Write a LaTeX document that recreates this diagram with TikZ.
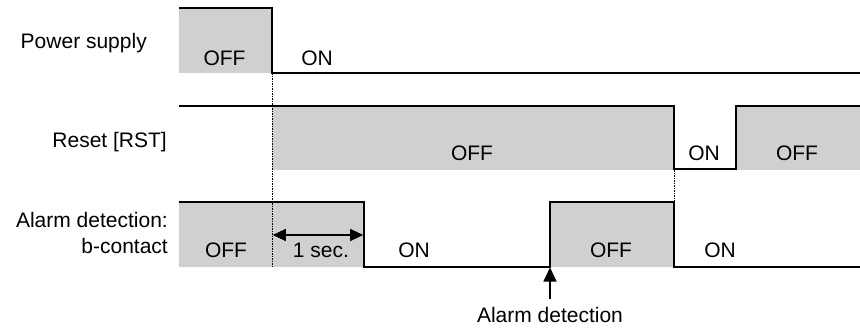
\documentclass[tikz,border=0pt]{standalone}
\usepackage{fontspec}
\setmainfont{Liberation Sans}
\usetikzlibrary{arrows.meta}
\definecolor{fillgray}{RGB}{208,208,208}
\tikzset{
  sig/.style={line width=1.6pt, black},
  guide/.style={line width=1pt, dash pattern=on 1.5pt off 1pt, black},
  lbl/.style={font=\fontsize{21}{25}\selectfont, inner sep=0pt},
  arr/.style={line width=1.2pt, -{Triangle[length=14pt,width=13pt]}},
  darr/.style={line width=1.2pt, {Triangle[length=13pt,width=12pt]}-{Triangle[length=13pt,width=12pt]}}
}
\begin{document}
\begin{tikzpicture}[x=1pt,y=-1pt]
\useasboundingbox (0,0) rectangle (860,327);
% shaded areas
\fill[fillgray] (179,8) rectangle (272,73);
\fill[fillgray] (272,106) rectangle (674,170);
\fill[fillgray] (736,106) rectangle (860,170);
\fill[fillgray] (179,202) rectangle (364,267);
\fill[fillgray] (550,202) rectangle (674,267);
% guides
\draw[guide] (272,73) -- (272,267);
\draw[guide] (674,170) -- (674,202);
% signals
\draw[sig] (179,8) -- (272,8) -- (272,73) -- (860,73);
\draw[sig] (179,106) -- (674,106) -- (674,169) -- (736,169) -- (736,106) -- (860,106);
\draw[sig] (179,202) -- (364,202) -- (364,267) -- (550,267) -- (550,202) -- (674,202) -- (674,267) -- (860,267);
% labels
\node[lbl, anchor=base east] (ps) at (147,48) {Power supply};
\node[lbl, anchor=base east] (rst) at (167,147) {Reset [RST]};
\node[lbl, anchor=base east] (ad1) at (168,227) {Alarm detection:};
\node[lbl, anchor=base east] (ad2) at (168,253) {b-contact};
\node[lbl, anchor=base] (p1) at (224.5,65) {OFF};
\node[lbl, anchor=base] (p2) at (317,65) {ON};
\node[lbl, anchor=base] (r1) at (472,160) {OFF};
\node[lbl, anchor=base] (r2) at (704,160) {ON};
\node[lbl, anchor=base] (r3) at (797,160) {OFF};
\node[lbl, anchor=base] (a1) at (226,257) {OFF};
\node[lbl, anchor=base] (a2) at (321,257) {1 sec.};
\node[lbl, anchor=base] (a3) at (414,257) {ON};
\node[lbl, anchor=base] (a4) at (611,257) {OFF};
\node[lbl, anchor=base] (a5) at (720,257) {ON};
\node[lbl, anchor=base] (det) at (550,322) {Alarm detection};
% arrows
\coordinate (s1) at (272.8,235);
\coordinate (s2) at (363.2,235);
\draw[darr] (s1) -- (s2);
\coordinate (dtop) at (550,267.5);
\draw[arr] (550,299) -- (dtop);
\end{tikzpicture}
\end{document}
